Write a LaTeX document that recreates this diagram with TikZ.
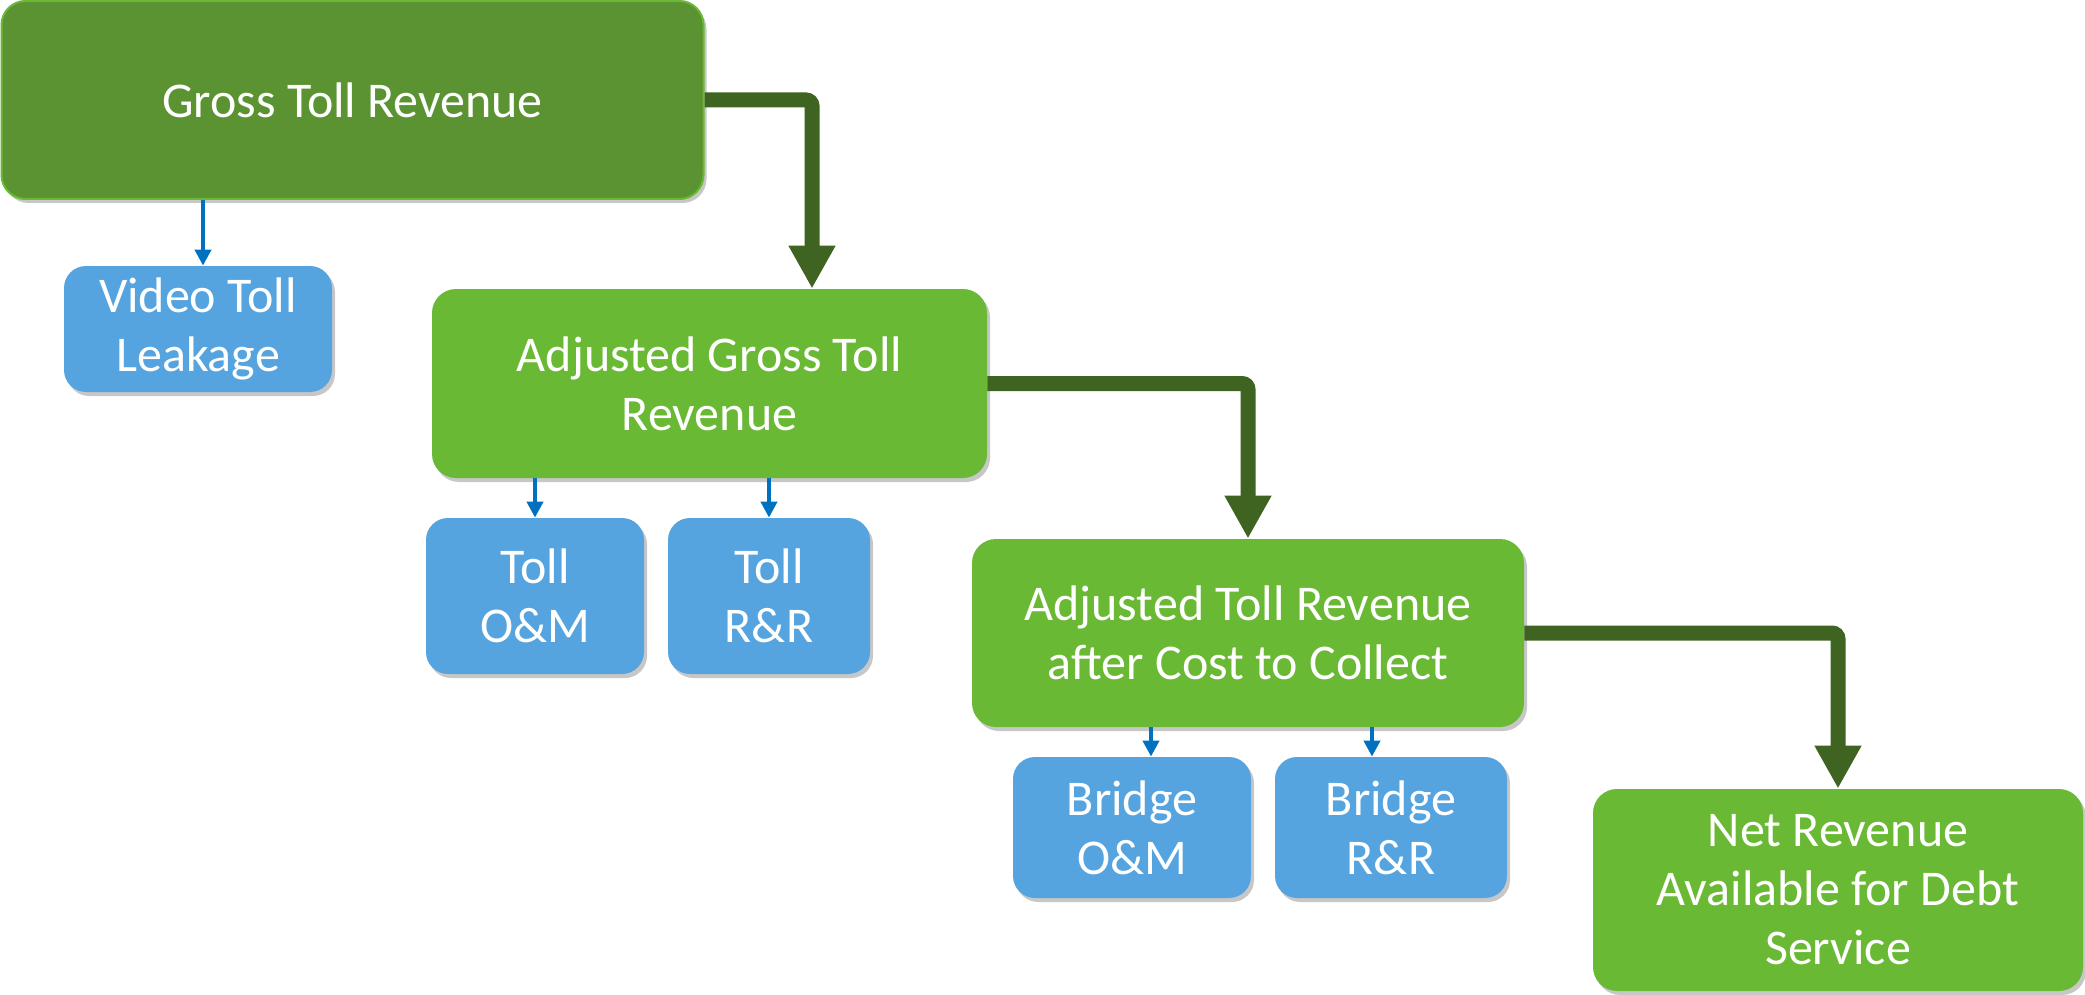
\documentclass[tikz,border=0pt]{standalone}
\usepackage{fontspec}
\setmainfont{Carlito}
\usetikzlibrary{arrows.meta,shadows,calc}
\definecolor{grossgreen}{HTML}{5B9332}
\definecolor{boxgreen}{HTML}{6AB934}
\definecolor{boxblue}{HTML}{55A4E0}
\definecolor{flowgreen}{HTML}{3F6321}
\definecolor{linkblue}{HTML}{0070C0}
\begin{document}
\begin{tikzpicture}[x=0.5pt,y=-0.5pt,
  box/.style={rectangle, rounded corners=12pt, inner sep=0pt, align=center, text=white,
    font=\fontsize{25pt}{29.5pt}\selectfont,
    drop shadow={shadow xshift=1.5pt, shadow yshift=-2pt, opacity=0.22, fill=black}},
  gbox/.style={box, fill=boxgreen},
  bbox/.style={box, fill=boxblue, rounded corners=11pt},
  flow/.style={draw=flowgreen, line width=7.5pt, rounded corners=3pt,
    -{Triangle[length=21.5pt,width=22pt]}},
  link/.style={draw=linkblue, line width=2pt, -{Triangle[length=8pt,width=8pt]}},
]
\useasboundingbox (0,0) rectangle (2085,995);

\node[gbox, fill=grossgreen, draw=boxgreen, line width=1pt, minimum width=351pt, minimum height=99pt] (gtr) at (352.5,100) {Gross Toll Revenue};
\node[bbox, minimum width=134pt, minimum height=63pt] (vtl) at (198,329) {Video Toll\\Leakage};
\node[gbox, minimum width=277.5pt, minimum height=94.5pt] (agtr) at (709.5,383.5) {Adjusted Gross Toll\\Revenue};
\node[bbox, minimum width=109pt, minimum height=78pt] (tom) at (535,596) {Toll\\O\&M};
\node[bbox, minimum width=101pt, minimum height=78pt] (trr) at (769,596) {Toll\\R\&R};
\node[gbox, minimum width=276pt, minimum height=94pt] (atr) at (1248,633) {Adjusted Toll Revenue\\after Cost to Collect};
\node[bbox, minimum width=119pt, minimum height=70.5pt] (bom) at (1132,827.5) {Bridge\\O\&M};
\node[bbox, minimum width=116pt, minimum height=70.5pt] (brr) at (1391,827.5) {Bridge\\R\&R};
\node[gbox, minimum width=245pt, minimum height=101pt] (nr) at (1838,890) {Net Revenue\\Available for Debt\\Service};

\coordinate (agtrIn) at ($(agtr.north)+(102.5,0)$);
\coordinate (gtrOut) at ($(gtr.south)+(-149.5,0)$);
\coordinate (vtlIn) at ($(vtl.north)+(5,0)$);
\coordinate (bomIn) at ($(bom.north)+(19,0)$);
\coordinate (brrIn) at ($(brr.north)+(-19,0)$);

\draw[flow] (gtr.east) -| (agtrIn);
\draw[flow] (agtr.east) -| (atr.north);
\draw[flow] (atr.east) -| (nr.north);

\draw[link] (gtrOut) -- (vtlIn);
\draw[link] (tom.north |- agtr.south) -- (tom.north);
\draw[link] (trr.north |- agtr.south) -- (trr.north);
\draw[link] (bomIn |- atr.south) -- (bomIn);
\draw[link] (brrIn |- atr.south) -- (brrIn);
\end{tikzpicture}
\end{document}
